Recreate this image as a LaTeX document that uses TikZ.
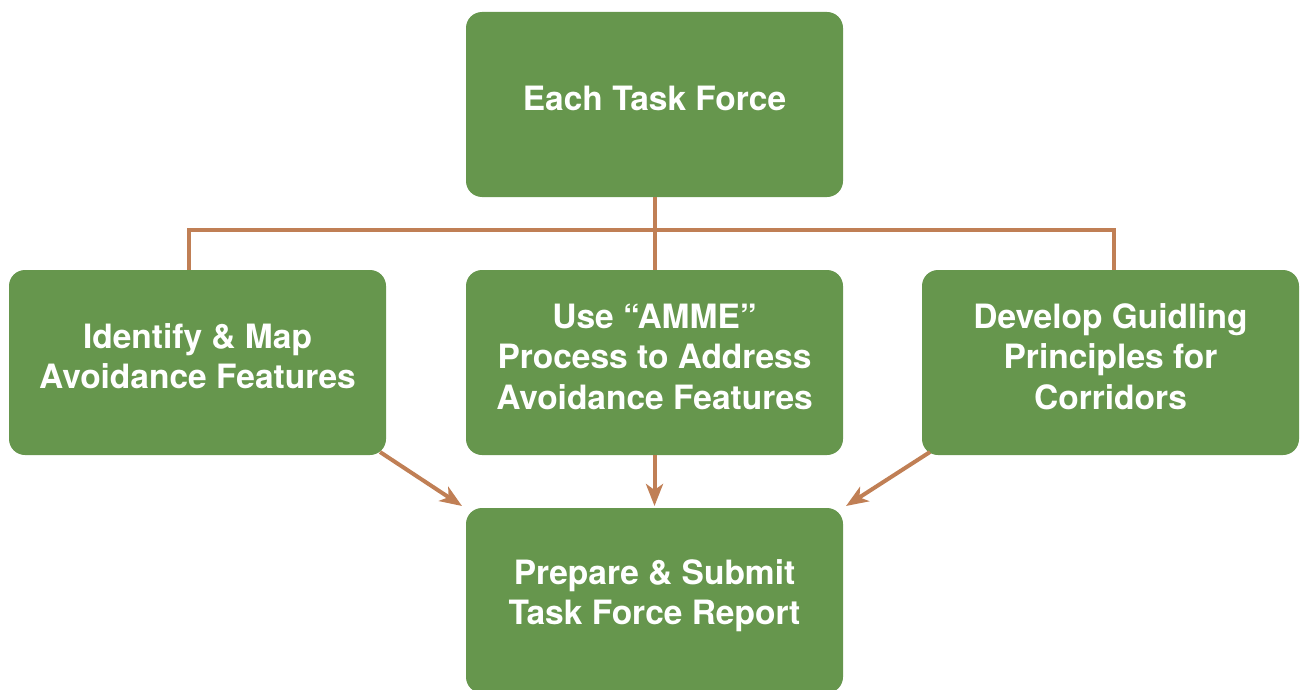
\documentclass[tikz,border=0pt]{standalone}
\usepackage{fontspec}
\setmainfont{TeX Gyre Heros}
\usetikzlibrary{arrows.meta}
\definecolor{boxgreen}{HTML}{66964D}
\definecolor{linkbrown}{HTML}{C07F55}
\begin{document}
\begin{tikzpicture}[x=1pt,y=-1pt,
  box/.style={fill=boxgreen, rounded corners=16pt, minimum width=377pt, minimum height=185pt,
    inner sep=0pt},
  lbl/.style={text=white, align=center, inner sep=0pt,
    font=\fontsize{33.5}{40.5}\selectfont\bfseries},
  link/.style={draw=linkbrown, line width=4pt},
  arr/.style={link, -{Stealth[length=22pt,width=17pt,inset=6pt]}}]
\useasboundingbox (0,0) rectangle (1300,690);
\clip (0,0) rectangle (1300,690);
\node[box] (top) at (654.5,104.5) {};
\node[box] (left) at (197.5,362.5) {};
\node[box] (mid) at (654.5,362.5) {};
\node[box] (right) at (1110.5,362.5) {};
\node[box] (bot) at (654.5,600.5) {};
\node[lbl] (ttop) at (654.5,98.5) {Each Task Force};
\node[lbl] (tleft) at (197.5,356) {Identify \& Map\\Avoidance Features};
\node[lbl] (tmid) at (654.5,356.5) {Use “AMME”\\Process to Address\\Avoidance Features};
\node[lbl] (tright) at (1110.5,356.5) {Develop Guidling\\Principles for\\Corridors};
\node[lbl] (tbot) at (654.5,595.5) {Prepare \& Submit\\Task Force Report};
\coordinate (hl) at (189,230);
\coordinate (hr) at (1114,230);
\draw[link] (top.south) -- (mid.north);
\draw[link] (left.north -| hl) -- (hl) -- (hr) -- (right.north -| hr);
\coordinate (a1) at (380,452);
\coordinate (a2) at (462,506);
\coordinate (b1) at (930,452);
\coordinate (b2) at (846,506);
\draw[arr] (a1) -- (a2);
\draw[arr] (mid.south) -- (654.5,506);
\draw[arr] (b1) -- (b2);
\end{tikzpicture}
\end{document}
